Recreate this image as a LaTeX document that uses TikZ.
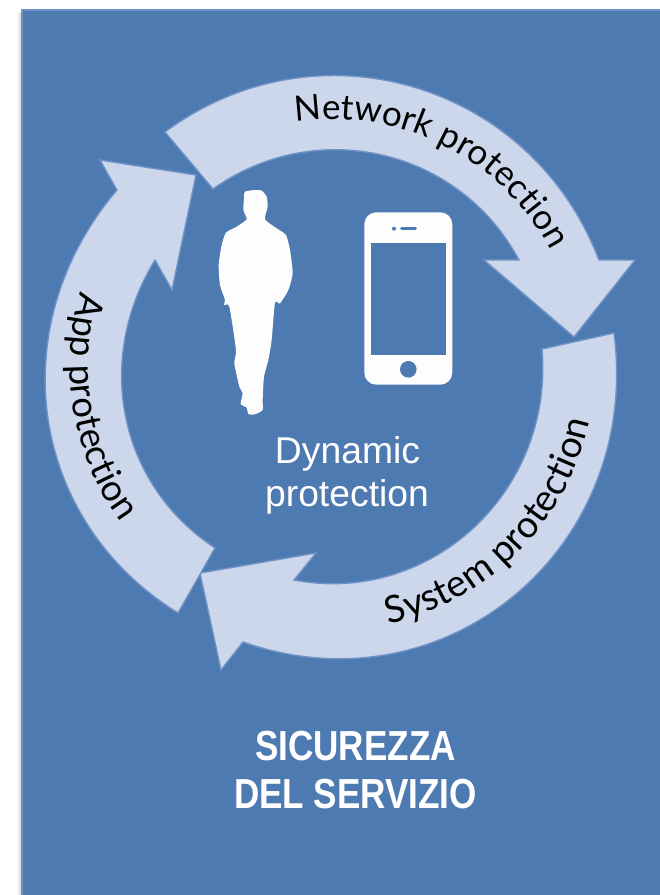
\documentclass[tikz,border=0pt]{standalone}
\usepackage{fontspec}
\setmainfont{Liberation Sans}
\newfontfamily\arcfont{Lato}
\newfontfamily\titlefont[FakeStretch=0.835]{Liberation Sans Bold}
\usetikzlibrary{decorations.text}
\definecolor{panelblue}{HTML}{4E7AB2}
\definecolor{paneledge}{HTML}{6D92C6}
\definecolor{arrowfill}{HTML}{CDD7EB}
\definecolor{arrowedge}{HTML}{7093C7}
\definecolor{iconwhite}{HTML}{FDFDFD}
\tikzset{
  ringarrow/.style={fill=arrowfill,draw=arrowedge,line width=1.4pt,line join=miter},
  arclabel/.style 2 args={decorate,decoration={text along path,text align=center,text={|\arcfont\fontsize{#1}{#1}\selectfont|#2}}},
  bodytext/.style={text=white,font=\fontsize{37.3}{37.3}\selectfont,inner sep=0pt,anchor=base},
  titletext/.style={text=white,font=\titlefont\fontsize{42}{42}\selectfont,inner sep=0pt,anchor=base},
  iconfill/.style={fill=iconwhite,draw=none},
  iconhole/.style={fill=panelblue,draw=none}
}
\begin{document}
\begin{tikzpicture}[x=1pt,y=-1pt]
\useasboundingbox (0,0) rectangle (660,895);
\fill[white] (0,0) rectangle (660,895);
% soft shadow and panel
\fill[black!8] (18,13) rectangle (22,895);
\fill[black!14] (20,12) rectangle (22,895);
\fill[panelblue] (22,10) rectangle (660,895);
\draw[paneledge,line width=1.6pt] (22,895) -- (22,10) -- (660,10);
% ring arrows
\draw[ringarrow] (165,132) .. controls (316.5,19.5) and (530.7,81.7) .. (599,260) -- (635,260) -- (574,337) -- (484,260) -- (519,260) .. controls (458.6,147.6) and (315.6,116) .. (213,189) -- cycle;
\draw[ringarrow] (614,333) .. controls (642,549) and (445,713) .. (243,642) -- (221,670) -- (200,573) -- (316,553) -- (294,580) .. controls (430.7,605.8) and (553.9,491.8) .. (542,349) -- cycle;
\draw[ringarrow] (178,613) .. controls (27,519) and (2,325) .. (117,190) -- (100,160) -- (196,175) -- (172,290) -- (155,260) .. controls (94,359.5) and (118,484) .. (215,548) -- cycle;
% arc labels
\path[arclabel={35}{Network protection}] plot[domain=-97.8:-28.7,samples=40] ({332+248*cos(\x)},{367+248*sin(\x)});
\path[arclabel={37.5}{System protection}] plot[domain=77.5:12,samples=40] ({332+263*cos(\x)},{367+263*sin(\x)});
\path[arclabel={36.5}{App protection}] plot[domain=196.5:144,samples=40] ({332+262*cos(\x)},{367+262*sin(\x)});
% man
\begin{scope}[shift={(200,180)},x=0.3333pt,y=-0.3333pt]
\fill[iconwhite] plot[smooth cycle,tension=0.35] coordinates {
(135,35)(165,30)(185,32)(200,50)(203,80)(195,118)(230,145)(258,165)(270,210)(278,280)(265,330)(240,370)(225,368)(215,480)(205,540)(192,590)(188,660)(188,690)(165,703)(145,702)(140,683)(122,672)(128,640)(118,620)(103,550)(108,510)(88,380)(72,375)(75,360)(60,315)(56,255)(65,195)(78,158)(110,140)(140,118)(130,90)(132,55)};
\end{scope}
% phone
\fill[iconfill,rounded corners=12pt] (364.3,212.3) rectangle (452.3,384.7);
\fill[iconhole] (371,242.7) rectangle (445.7,354.7);
\fill[iconhole] (408.3,369.3) circle[radius=8.3];
\fill[iconhole] (394,228.7) circle[radius=2];
\draw[panelblue,line width=3pt,line cap=round] (401.5,228.7) -- (415.5,228.7);
% texts
\node[bodytext] (dyn1) at (347.5,463) {Dynamic};
\node[bodytext] (dyn2) at (347,506) {protection};
\node[titletext] (tit1) at (355.5,760) {SICUREZZA};
\node[titletext] (tit2) at (355.5,808) {DEL SERVIZIO};
\end{tikzpicture}
\end{document}
